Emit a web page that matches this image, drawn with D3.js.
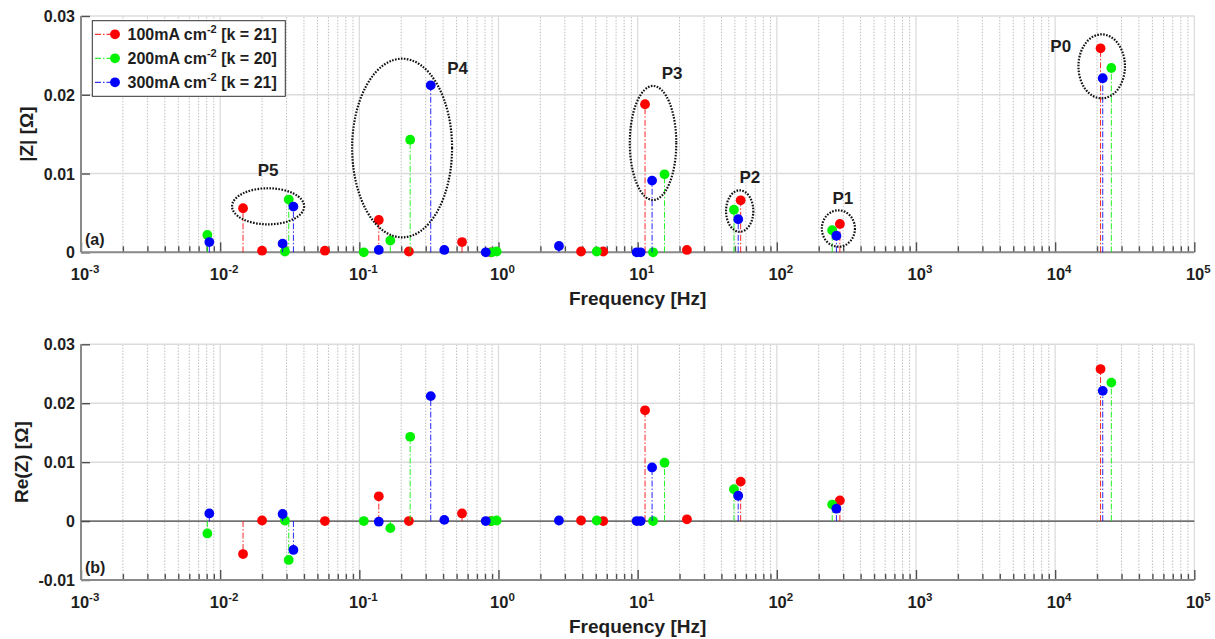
<!DOCTYPE html>
<html><head><meta charset="utf-8">
<script src="https://cdn.jsdelivr.net/npm/d3@7"></script>
<style>
body{margin:0;background:#fff}
text{font-family:"Liberation Sans",Arial,Helvetica,sans-serif;font-weight:bold;fill:#1e1e1e}
</style>
</head><body>
<svg id="chart" width="1215" height="639"></svg>
<script>
// ---------------- data ----------------
const seriesLabels = ["100mA cm", "200mA cm", "300mA cm"];
const seriesK = ["[k = 21]", "[k = 20]", "[k = 21]"];
const seriesColors = ["#ff0000", "#00f200", "#0000ff"];

const redFreq  = [0.0146, 0.0200, 0.0566, 0.138, 0.227, 0.547, 0.88, 3.92, 5.66, 11.3, 22.6, 55.0, 284, 21200];
const redAbs   = [0.0056, 0.0002, 0.0002, 0.0041, 0.0001, 0.0013, 0.0000, 0.0001, 0.0001, 0.0188, 0.0003, 0.0066, 0.0036, 0.0259];
const redRe    = [-0.0056, 0.0001, 0.0000, 0.0042, 0.0000, 0.0013, 0.0000, 0.0001, 0.0000, 0.0188, 0.0003, 0.0067, 0.0035, 0.0258];

const greenFreq = [0.00809, 0.0292, 0.0311, 0.1076, 0.167, 0.232, 0.893, 0.97, 5.08, 12.9, 15.6, 49.2, 250, 25350];
const greenAbs  = [0.0022, 0.0001, 0.0067, 0.0000, 0.0015, 0.0143, 0.0000, 0.0001, 0.0001, 0.0000, 0.0099, 0.0054, 0.0028, 0.0234];
const greenRe   = [-0.0021, 0.0001, -0.0066, 0.0000, -0.0012, 0.0143, 0.0000, 0.0001, 0.0001, 0.0000, 0.0099, 0.0054, 0.0028, 0.0235];

const blueFreq = [0.00836, 0.0281, 0.0336, 0.138, 0.326, 0.408, 0.81, 2.72, 9.84, 10.5, 12.7, 52.8, 268, 21980];
const blueAbs  = [0.0013, 0.0011, 0.0058, 0.0003, 0.0212, 0.0003, 0.0000, 0.0008, 0.0000, 0.0000, 0.0091, 0.0042, 0.0021, 0.0221];
const blueRe   = [0.0013, 0.0012, -0.0049, -0.0001, 0.0212, 0.0002, 0.0000, 0.0001, 0.0000, 0.0000, 0.0091, 0.0043, 0.0021, 0.0221];

const xTickExponents = [-3, -2, -1, 0, 1, 2, 3, 4, 5];
const topYTicks = [0, 0.01, 0.02, 0.03];
const topYTickLabels = ["0", "0.01", "0.02", "0.03"];
const botYTicks = [-0.01, 0, 0.01, 0.02, 0.03];
const botYTickLabels = ["-0.01", "0", "0.01", "0.02", "0.03"];

// peak annotations (ellipses in data coordinates)
const peakNames      = ["P0", "P1", "P2", "P3", "P4", "P5"];
const peakFreq       = [21600, 277, 54.1, 12.9, 0.203, 0.0221];
const peakValue      = [0.02361, 0.00302, 0.00524, 0.01388, 0.01324, 0.00584];
const peakHalfDecade = [0.167, 0.119, 0.098, 0.167, 0.359, 0.259];
const peakHalfValue  = [0.00406, 0.00231, 0.00263, 0.00724, 0.01134, 0.00229];
const peakLabelFreq  = [10970, 298, 64.1, 17.7, 0.509, 0.0221];
const peakLabelValue = [0.0262, 0.0069, 0.0096, 0.0228, 0.0234, 0.0105];

// ---------------- drawing ----------------
const svg = d3.select("#chart");
const X0 = 81, X1 = 1194.3;
const x = d3.scaleLog().domain([1e-3, 1e5]).range([X0, X1]);
const yTop = d3.scaleLinear().domain([0, 0.03]).range([252.3, 16]);
const yBot = d3.scaleLinear().domain([-0.01, 0.03]).range([580, 344.3]);

const series = [
  {freq: redFreq, abs: redAbs, re: redRe},
  {freq: greenFreq, abs: greenAbs, re: greenRe},
  {freq: blueFreq, abs: blueAbs, re: blueRe}
];

const majors = xTickExponents.map(e => Math.pow(10, e));
const minors = [];
for (let e = -3; e < 5; e++) for (let m = 2; m <= 9; m++) minors.push(m * Math.pow(10, e));

function panel(y, yTicks, yLabels, key, ylabel, tag, zeroLine) {
  const g = svg.append("g");
  const [yb, yt] = y.range();
  // minor x grid
  g.append("g").selectAll("line").data(minors).join("line")
    .attr("x1", d => x(d)).attr("x2", d => x(d)).attr("y1", yb).attr("y2", yt)
    .attr("stroke", "#b8b8b8").attr("stroke-width", 0.9).attr("stroke-dasharray", "1.5,1.5");
  // major x grid
  g.append("g").selectAll("line").data(majors).join("line")
    .attr("x1", d => x(d)).attr("x2", d => x(d)).attr("y1", yb).attr("y2", yt)
    .attr("stroke", "#dcdcdc").attr("stroke-width", 1.3);
  // y grid
  g.append("g").selectAll("line").data(yTicks).join("line")
    .attr("x1", X0).attr("x2", X1).attr("y1", d => y(d)).attr("y2", d => y(d))
    .attr("stroke", "#dcdcdc").attr("stroke-width", 1.5);

  // axes with inward ticks
  const axMaj = d3.axisBottom(x).tickValues(majors).tickSize(-10).tickFormat("");
  const axMin = d3.axisBottom(x).tickValues(minors).tickSize(-6).tickFormat("");
  const gx1 = g.append("g").attr("transform", `translate(0,${yb})`).call(axMaj);
  const gx2 = g.append("g").attr("transform", `translate(0,${yb})`).call(axMin);
  [gx1, gx2].forEach(a => {
    a.select(".domain").remove();
    a.selectAll(".tick line").attr("stroke", "#505050").attr("stroke-width", 1.4);
  });
  const axY = d3.axisLeft(y).tickValues(yTicks).tickSize(-9).tickFormat("");
  const gy = g.append("g").attr("transform", `translate(${X0},0)`).call(axY);
  gy.select(".domain").remove();
  gy.selectAll(".tick line").attr("stroke", "#505050").attr("stroke-width", 1.4);
  g.append("line").attr("x1", X0).attr("x2", X1).attr("y1", yb).attr("y2", yb)
    .attr("stroke", "#8a8a8a").attr("stroke-width", 2);
  g.append("line").attr("x1", X0).attr("x2", X0).attr("y1", yb).attr("y2", yt)
    .attr("stroke", "#8a8a8a").attr("stroke-width", 2);

  if (zeroLine) {
    g.append("line").attr("x1", X0).attr("x2", X1).attr("y1", y(0)).attr("y2", y(0))
      .attr("stroke", "#4a4a4a").attr("stroke-width", 1.3);
  }

  // x tick labels
  const tl = g.append("g").selectAll("text").data(xTickExponents).join("text")
    .attr("x", d => x(Math.pow(10, d)) + 4).attr("y", yb + 28)
    .attr("text-anchor", "middle").attr("font-size", 16.5);
  tl.append("tspan").text("10");
  tl.append("tspan").attr("dy", -7).attr("font-size", 11.5).text(d => String(d));

  // y tick labels
  g.append("g").selectAll("text").data(yTicks).join("text")
    .attr("x", 75).attr("y", d => y(d) + 6).attr("text-anchor", "end")
    .attr("font-size", 16).text((d, i) => yLabels[i]);

  // labels
  g.append("text").attr("x", (X0 + X1) / 2).attr("y", yb + 53).attr("text-anchor", "middle")
    .attr("font-size", 19).text("Frequency [Hz]");
  g.append("text").attr("transform", `translate(${tag === "(a)" ? 33 : 28},${(yb + yt) / 2}) rotate(-90)`)
    .attr("text-anchor", "middle").attr("font-size", 19).text(ylabel);
  g.append("text").attr("x", 85).attr("y", yb - 7).attr("font-size", 16).text(tag);

  // stems + markers
  series.forEach((s, si) => {
    const vals = s[key];
    const sg = g.append("g");
    sg.selectAll("line").data(s.freq).join("line")
      .attr("x1", d => x(d)).attr("x2", d => x(d))
      .attr("y1", y(0)).attr("y2", (d, i) => y(vals[i]))
      .attr("stroke", seriesColors[si]).attr("stroke-width", 1)
      .attr("stroke-dasharray", "6,2,1.5,2").attr("opacity", 0.85);
    sg.selectAll("circle").data(s.freq).join("circle")
      .attr("cx", d => x(d)).attr("cy", (d, i) => y(vals[i])).attr("r", 4.9)
      .attr("fill", seriesColors[si]);
  });
  return g;
}

const gTop = panel(yTop, topYTicks, topYTickLabels, "abs", "|Z| [Ω]", "(a)", false);
panel(yBot, botYTicks, botYTickLabels, "re", "Re(Z) [Ω]", "(b)", true);

// ellipses
peakNames.forEach((name, i) => {
  const cx = x(peakFreq[i]), cy = yTop(peakValue[i]);
  const rx = x(peakFreq[i] * Math.pow(10, peakHalfDecade[i])) - cx;
  const ry = yTop(peakValue[i] - peakHalfValue[i]) - cy;
  gTop.append("ellipse").attr("cx", cx).attr("cy", cy).attr("rx", rx).attr("ry", ry)
    .attr("fill", "none").attr("stroke", "#111").attr("stroke-width", 2.2)
    .attr("stroke-dasharray", "1.6,1.4");
  gTop.append("text").attr("x", x(peakLabelFreq[i])).attr("y", yTop(peakLabelValue[i]) + 6)
    .attr("text-anchor", "middle").attr("font-size", 17).text(name);
});

// legend
const lg = gTop.append("g");
lg.append("rect").attr("x", 92.3).attr("y", 20.7).attr("width", 193).attr("height", 75.6)
  .attr("fill", "#fff").attr("stroke", "#303030").attr("stroke-width", 1);
seriesLabels.forEach((lab, i) => {
  const ly = 34.3 + i * 24;
  lg.append("line").attr("x1", 95).attr("x2", 115).attr("y1", ly).attr("y2", ly)
    .attr("stroke", seriesColors[i]).attr("stroke-width", 1).attr("stroke-dasharray", "6,2,1.5,2");
  lg.append("circle").attr("cx", 115).attr("cy", ly).attr("r", 4.9).attr("fill", seriesColors[i]);
  const t = lg.append("text").attr("x", 127.5).attr("y", ly + 6).attr("font-size", 16);
  t.append("tspan").text(lab);
  t.append("tspan").attr("dy", -7).attr("font-size", 11).text("-2");
  t.append("tspan").attr("dy", 7).text(" " + seriesK[i]);
});
</script>
</body></html>
